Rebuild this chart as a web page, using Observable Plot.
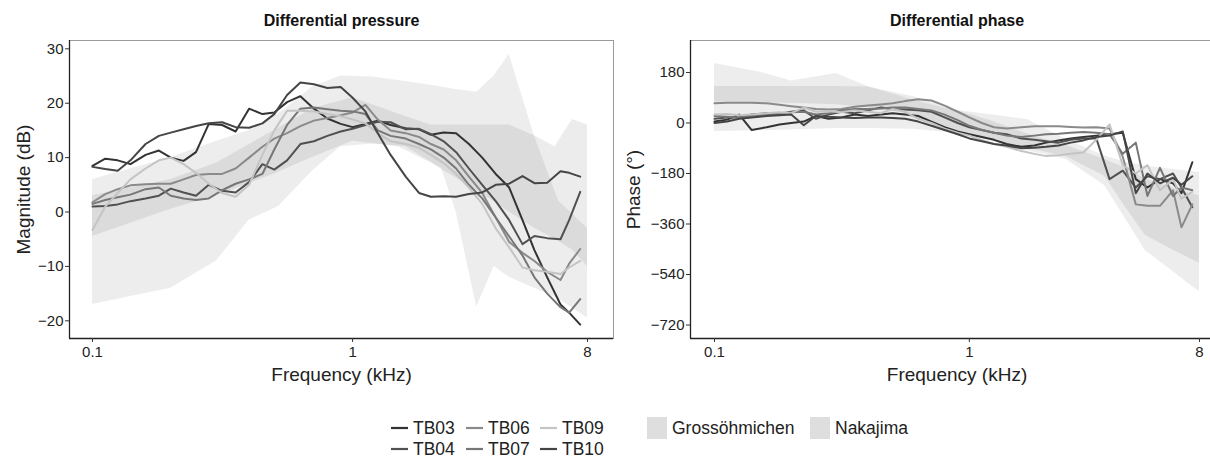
<!DOCTYPE html>
<html><head><meta charset="utf-8">
<script src="https://cdn.jsdelivr.net/npm/d3@7"></script>
<script src="https://cdn.jsdelivr.net/npm/@observablehq/plot@0.6"></script>
<style>
html,body{margin:0;padding:0;overflow:hidden;background:#fff;width:1210px;height:460px;}
#wrap{position:relative;width:1210px;height:460px;overflow:hidden;font-family:"Liberation Sans",Arial,sans-serif;}
#left{position:absolute;left:0;top:0;width:616px;height:380px;}
#right{position:absolute;left:620px;top:0;width:605px;height:380px;}
#legend{position:absolute;left:0;top:395px;width:1210px;}
#wrap svg{max-width:none !important;}
</style></head><body><div id="wrap"><div id="left"></div><div id="right"></div><div id="legend"></div></div>
<script>
// ---- data ----
const series = ["TB03","TB04","TB06","TB07","TB09","TB10"];
const seriesColors = ["#333333","#505050","#8a8a8a","#777777","#c4c4c4","#454545"];
const freqs = [0.1,0.112,0.125,0.14,0.16,0.18,0.2,0.224,0.25,0.28,0.315,0.355,0.4,0.45,0.5,0.56,0.63,0.71,0.8,0.9,1,1.12,1.25,1.4,1.6,1.8,2,2.24,2.5,2.8,3.15,3.55,4,4.5,5,5.6,6.3,6.8,7.5];

const magTB03 = [8.5,9.8,9.5,8.8,10.5,11.3,10.0,9.4,11.0,16.2,16.0,14.8,19.0,18.0,18.3,20.2,21.3,19.0,17.2,16.2,15.6,16.2,16.8,16.0,15.4,15.2,14.2,14.6,14.5,12.5,10.0,7.0,4.5,-1.5,-7.0,-12.0,-17.0,-18.5,-20.7];
const magTB04 = [1.0,1.1,1.4,2.0,2.5,3.0,4.3,3.6,3.0,5.0,3.9,3.6,5.5,8.8,7.8,9.5,12.5,13.0,14.0,14.8,15.3,16.0,16.6,16.5,15.2,15.3,14.3,13.0,11.0,8.0,5.0,2.0,-1.5,-5.9,-4.4,-4.8,-5.0,-1.5,3.7];
const magTB06 = [1.8,3.3,4.2,4.9,5.1,5.2,5.2,6.0,6.8,7.0,7.0,8.0,10.0,12.0,13.5,14.5,15.8,16.8,17.3,17.8,18.3,19.7,17.0,15.0,14.5,13.8,12.5,11.5,9.5,6.5,3.5,-1.0,-5.5,-7.5,-9.0,-11.0,-12.5,-9.5,-6.8];
const magTB07 = [1.5,2.2,2.7,3.2,4.2,4.5,3.0,2.5,2.2,2.5,4.0,5.2,6.0,7.0,11.5,16.0,19.0,19.2,18.9,18.6,18.5,18.0,15.0,14.0,13.5,12.5,11.5,10.0,8.0,5.0,2.5,-1.0,-4.5,-8.0,-12.0,-15.0,-17.5,-18.5,-16.0];
const magTB09 = [-3.3,1.0,3.5,6.0,8.0,9.5,10.0,8.8,7.2,5.2,3.5,2.8,5.0,10.5,15.0,18.6,18.6,18.5,18.0,17.6,17.0,16.3,14.5,13.0,12.5,11.8,10.5,9.0,7.0,4.5,1.5,-3.0,-6.5,-10.2,-10.7,-11.0,-11.4,-10.2,-9.0];
const magTB10 = [8.3,7.9,7.6,9.5,12.5,14.0,14.6,15.2,15.8,16.3,16.5,15.6,15.5,16.3,18.0,21.5,23.8,23.5,22.8,23.0,21.0,18.5,14.5,10.5,6.5,3.5,2.8,2.9,2.8,3.3,3.6,5.0,5.2,6.6,5.3,5.4,7.5,7.2,6.5];

const phaTB03 = [5,12,30,-25,-15,-5,0,5,25,15,20,30,25,30,35,30,25,5,-15,-30,-40,-50,-60,-75,-85,-80,-70,-62,-55,-50,-45,-40,-35,-200,-230,-200,-215,-250,-140];
const phaTB04 = [15,20,20,30,35,30,40,45,15,30,40,35,45,55,50,48,45,40,20,0,-15,-25,-35,-40,-55,-60,-65,-70,-60,-55,-55,-200,-170,-230,-190,-200,-180,-230,-300];
const phaTB06 = [70,72,72,72,70,65,60,55,50,48,50,58,62,66,70,78,85,80,62,40,20,0,-15,-20,-15,-12,-12,-12,-14,-16,-15,-20,-120,-290,-295,-295,-240,-372,-290];
const phaTB07 = [25,22,20,25,30,35,38,40,30,35,45,50,50,52,55,55,50,45,30,10,-10,-25,-35,-45,-50,-45,-40,-38,-35,-32,-35,-40,-110,-70,-260,-160,-260,-230,-240];
const phaTB09 = [30,32,28,30,35,38,35,55,40,42,38,45,40,35,50,40,15,0,-20,-35,-45,-60,-75,-85,-100,-110,-118,-115,-110,-105,-60,-5,-150,-180,-150,-240,-200,-270,-245];
const phaTB10 = [0,5,15,20,25,28,30,-8,25,22,20,18,20,20,18,15,5,-10,-25,-40,-55,-65,-75,-80,-90,-88,-85,-80,-70,-62,-50,-45,-30,-250,-180,-215,-195,-220,-190];

// reference ranges (ribbons)
const grossMagF  = [0.1,0.2,0.3,0.4,0.52,0.7,0.9,1.2,1.6,2.2,2.5,3.0,3.5,4.0,5.0,6.2,8.0];
const grossMagLo = [-17,-14,-9,-1.5,1,7.5,12,12.5,12,8,0,-17.5,-10,-12,-14,-16,-19.5];
const grossMagHi = [6,10,13,15,18,23,25,24.8,24,23,22.5,22,25,29,14,2,-3];
const nakaMagF  = [0.1,0.2,0.3,0.5,0.7,1.0,1.5,2.0,3.0,4.0,5.0,6.0,7.0,8.0];
const nakaMagLo = [-4.5,0.5,3,7,10,13,12,9,4,0,-3,-5,-7,-10];
const nakaMagHi = [3,6,9,15,19,21,18,16,16,16,14,12,17,16];

const grossPhaF  = [0.1,0.15,0.2,0.3,0.4,0.6,0.85,1.2,1.7,2.4,3.4,4.1,4.9,6.2,8];
const grossPhaLo = [-30,-28,-25,-20,-20,-22,-35,-62,-100,-130,-224,-341,-454,-525,-602];
const grossPhaHi = [212,182,150,176,130,82,47,30,12,-59,-118,-140,-153,-165,-176];
const nakaPhaF  = [0.1,0.15,0.2,0.3,0.4,0.6,0.85,1.2,1.7,2.4,3.4,4.1,4.9,6.2,8];
const nakaPhaLo = [75,72,70,65,55,30,-20,-60,-90,-120,-190,-300,-400,-450,-500];
const nakaPhaHi = [130,130,130,130,128,94,50,10,-40,-80,-130,-160,-200,-230,-260];

const bandNames = ["Grossöhmichen","Nakajima"];
const bandOpacity = [0.07, 0.075];
const xTicks = [0.1, 1, 8];
const xTickLabels = ["0.1", "1", "8"];
const magTicks = [-20,-10,0,10,20,30];
const phaTicks = [-720,-540,-360,-180,0,180];

// ---- build tables ----
const magSeries = [magTB03, magTB04, magTB06, magTB07, magTB09, magTB10];
const phaSeries = [phaTB03, phaTB04, phaTB06, phaTB07, phaTB09, phaTB10];
const toLong = (arrs) => series.flatMap((id, i) => freqs.map((f, j) => ({id, f, v: arrs[i][j]})));
const toBand = (F, lo, hi) => F.map((f, i) => ({f, lo: lo[i], hi: hi[i]}));
const magData = toLong(magSeries);
const phaData = toLong(phaSeries);
const xTickData = xTicks.map((t, i) => ({t, label: xTickLabels[i]}));

const FONT = '"Liberation Sans", Arial, sans-serif';

function panel({data, bands, xDomain, yDomain, yTicks, title, ylabel, ylabelDx, width, marginLeft, marginRight}) {
  return Plot.plot({
    width, height: 380, marginLeft, marginRight, marginTop: 40, marginBottom: 42,
    style: {fontFamily: FONT, fontSize: "15px", color: "#333", background: "transparent", overflow: "visible", maxWidth: "none"},
    x: {type: "log", domain: xDomain},
    y: {domain: yDomain},
    color: {domain: series, range: seriesColors},
    marks: [
      Plot.areaY(bands[0], {x: "f", y1: "lo", y2: "hi", fill: "#000", fillOpacity: bandOpacity[0]}),
      Plot.areaY(bands[1], {x: "f", y1: "lo", y2: "hi", fill: "#000", fillOpacity: bandOpacity[1]}),
      Plot.lineY(data, {x: "f", y: "v", z: "id", stroke: "id", strokeWidth: 2, strokeLinejoin: "round"}),
      Plot.frame({stroke: "#9a9a9a", strokeWidth: 1}),
      Plot.ruleX([xDomain[0]], {stroke: "#222", strokeWidth: 1.3}),
      Plot.ruleY([yDomain[0]], {stroke: "#222", strokeWidth: 1.3}),
      Plot.axisX({ticks: xTicks, tickFormat: () => "", tickSize: 4, tickPadding: 0, label: null, stroke: "#333"}),
      Plot.text(xTickData, {x: "t", text: "label", frameAnchor: "bottom", dy: 14, textAnchor: "middle", lineAnchor: "middle", fontSize: 15, fill: "#222"}),
      Plot.axisY({ticks: yTicks, tickSize: 4, tickPadding: 2, label: null, fontSize: 15, stroke: "#333", fill: "#222"}),
      Plot.text([title], {frameAnchor: "top", dy: -20, textAnchor: "middle", lineAnchor: "middle", fontWeight: "bold", fontSize: 16, fill: "#111"}),
      Plot.text(["Frequency (kHz)"], {frameAnchor: "bottom", dy: 36, textAnchor: "middle", lineAnchor: "middle", fontSize: 19, fill: "#222"}),
      Plot.text([ylabel], {frameAnchor: "left", dx: ylabelDx, rotate: -90, textAnchor: "middle", lineAnchor: "middle", fontSize: 19, fill: "#222"})
    ]
  });
}

document.getElementById("left").append(panel({
  data: magData,
  bands: [toBand(grossMagF, grossMagLo, grossMagHi), toBand(nakaMagF, nakaMagLo, nakaMagHi)],
  xDomain: [0.0816, 10.07], yDomain: [-23.25, 31.53], yTicks: magTicks,
  title: "Differential pressure", ylabel: "Magnitude (dB)", ylabelDx: -46,
  width: 616, marginLeft: 69, marginRight: 3
}));
document.getElementById("right").append(panel({
  data: phaData,
  bands: [toBand(grossPhaF, grossPhaLo, grossPhaHi), toBand(nakaPhaF, nakaPhaLo, nakaPhaHi)],
  xDomain: [0.0805, 9.94], yDomain: [-768, 294], yTicks: phaTicks,
  title: "Differential phase", ylabel: "Phase (°)", ylabelDx: -57,
  width: 605, marginLeft: 70, marginRight: 2
}));

// ---- legend ----
const lg = d3.select("#legend").append("svg").attr("width", 1210).attr("height", 65)
  .style("font-family", FONT).style("font-size", "17.5px");
const colX = [391, 466, 540], rowY = [33, 54];
series.forEach((s, i) => {
  const x = colX[Math.floor(i / 2)], y = rowY[i % 2];
  lg.append("line").attr("x1", x).attr("x2", x + 17).attr("y1", y).attr("y2", y)
    .attr("stroke", seriesColors[i]).attr("stroke-width", 2.2);
  lg.append("text").attr("x", x + 22).attr("y", y).attr("dy", "0.35em").attr("fill", "#222").text(s);
});
const bandX = [647, 810];
bandNames.forEach((b, i) => {
  lg.append("rect").attr("x", bandX[i]).attr("y", 22).attr("width", 20).attr("height", 22)
    .attr("fill", "#000").attr("fill-opacity", 0.13);
  lg.append("text").attr("x", bandX[i] + 25).attr("y", 33).attr("dy", "0.35em").attr("fill", "#222").text(b);
});
</script>
</body></html>
